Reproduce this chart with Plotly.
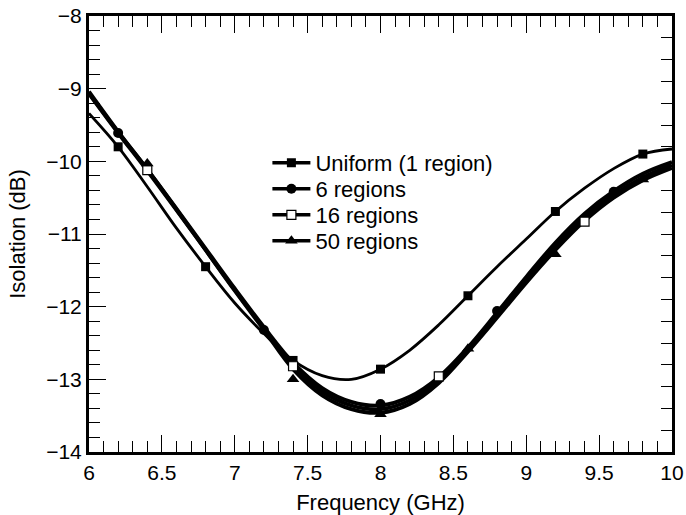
import plotly.graph_objects as go

# Frequency grid for the smooth curves (GHz)
freq = [6.0, 6.2, 6.4, 6.6, 6.8, 7.0, 7.2, 7.4, 7.6, 7.8, 8.0,
        8.2, 8.4, 8.6, 8.8, 9.0, 9.2, 9.4, 9.6, 9.8, 10.0]

# Isolation curves (dB)
uniform = [-9.34, -9.80, -10.35, -10.92, -11.45, -11.95, -12.37, -12.74, -12.95, -13.00, -12.86,
           -12.60, -12.25, -11.85, -11.45, -11.07, -10.69, -10.37, -10.10, -9.90, -9.83]
regions6 = [-9.04, -9.59, -10.11, -10.65, -11.20, -11.75, -12.28, -12.77, -13.12, -13.31, -13.36,
            -13.24, -12.97, -12.56, -12.08, -11.59, -11.12, -10.72, -10.41, -10.17, -10.01]
regions16 = [-9.07, -9.61, -10.13, -10.67, -11.22, -11.77, -12.30, -12.81, -13.17, -13.36, -13.41,
             -13.29, -13.01, -12.60, -12.12, -11.63, -11.17, -10.77, -10.46, -10.22, -10.05]
regions50 = [-9.06, -9.60, -10.11, -10.66, -11.22, -11.78, -12.32, -12.86, -13.22, -13.41, -13.46,
             -13.34, -13.05, -12.62, -12.15, -11.67, -11.22, -10.82, -10.50, -10.26, -10.09]

# Marker positions
uniform_mx = [6.2, 6.8, 7.4, 8.0, 8.6, 9.2, 9.8]
uniform_my = [-9.80, -11.45, -12.74, -12.86, -11.85, -10.69, -9.90]
r6_mx = [6.2, 7.2, 8.0, 8.8, 9.6]
r6_my = [-9.61, -12.32, -13.34, -12.06, -10.42]
r16_mx = [6.4, 7.4, 8.4, 9.4]
r16_my = [-10.12, -12.82, -12.96, -10.83]
r50_mx = [6.4, 7.4, 8.0, 8.6, 9.2, 9.8]
r50_my = [-10.03, -13.00, -13.48, -12.58, -11.28, -10.25]

names = ["Uniform (1 region)", "6 regions", "16 regions", "50 regions"]

FONT = "Liberation Sans"
BLACK = "black"

series = [
    (names[0], uniform, uniform_mx, uniform_my, "square", 9, 2.8),
    (names[1], regions6, r6_mx, r6_my, "circle", 10, 3.8),
    (names[2], regions16, r16_mx, r16_my, "square-open", 9, 3.8),
    (names[3], regions50, r50_mx, r50_my, "triangle-up", 11, 3.8),
]
legend_ids = ["legend", "legend2", "legend3", "legend4"]

fig = go.Figure()
for name, ys, mx, my, sym, ms, lw in series:
    fig.add_trace(go.Scatter(x=freq, y=ys, mode="lines",
                             line=dict(color=BLACK, width=lw, shape="spline", smoothing=1.0),
                             showlegend=False, hoverinfo="skip"))
for (name, ys, mx, my, sym, ms, lw), lid in zip(series, legend_ids):
    if sym == "square-open":
        mk = dict(symbol="square", size=ms, color="white", line=dict(color=BLACK, width=1.2))
    else:
        mk = dict(symbol=sym, size=ms, color=BLACK, line=dict(width=0))
    fig.add_trace(go.Scatter(x=mx, y=my, mode="markers", marker=mk, showlegend=False))
    fig.add_trace(go.Scatter(x=[None], y=[None], mode="lines+markers", name=name, legend=lid,
                             line=dict(color=BLACK, width=3.5), marker=mk))

axis_common = dict(showgrid=False, zeroline=False, showline=True, linecolor=BLACK, linewidth=3,
                   ticks="inside", tickcolor=BLACK, tickwidth=1.3, ticklen=17, automargin=False)

leg_common = dict(xanchor="left", yanchor="middle", bgcolor="rgba(0,0,0,0)",
                  font=dict(size=22, family=FONT), itemwidth=38)
leg_x = 0.306
leg_py = [163, 189, 215, 241]  # pixel centres of the legend rows
leg_y = [(452 - p) / 436 for p in leg_py]

fig.update_layout(
    width=686, height=515,
    margin=dict(l=89, r=14, t=16, b=63, autoexpand=False),
    paper_bgcolor="white", plot_bgcolor="white",
    font=dict(family=FONT, size=21, color=BLACK),
    xaxis=dict(range=[6, 10], dtick=0.5, tick0=6,
               minor=dict(dtick=0.1, ticks="inside", ticklen=11, tickcolor=BLACK, tickwidth=1),
               title=dict(text="Frequency (GHz)", font=dict(size=22)),
               tickfont=dict(size=21), **axis_common),
    xaxis2=dict(range=[6, 10], overlaying="x", side="top", dtick=0.5, tick0=6, showticklabels=False,
                minor=dict(dtick=0.1, ticks="inside", ticklen=11, tickcolor=BLACK, tickwidth=1),
                **axis_common),
    yaxis=dict(range=[-14, -8], dtick=1, tick0=-14,
               minor=dict(dtick=0.2, ticks="inside", ticklen=11, tickcolor=BLACK, tickwidth=1),
               title=dict(text="Isolation (dB)", font=dict(size=22)),
               tickfont=dict(size=21), **axis_common),
    yaxis2=dict(range=[-14, -8], overlaying="y", side="right", dtick=0.3, tick0=-8, showticklabels=False,
                showgrid=False, zeroline=False, showline=True, linecolor=BLACK, linewidth=3,
                ticks="inside", tickcolor=BLACK, tickwidth=1, ticklen=11, automargin=False),
    legend=dict(x=leg_x, y=leg_y[0], **leg_common),
    legend2=dict(x=leg_x, y=leg_y[1], **leg_common),
    legend3=dict(x=leg_x, y=leg_y[2], **leg_common),
    legend4=dict(x=leg_x, y=leg_y[3], **leg_common),
    showlegend=True,
)
# dummy trace to activate the mirrored axes
fig.add_trace(go.Scatter(x=[None], y=[None], xaxis="x2", yaxis="y2", showlegend=False))

fig.write_html("out.html")
